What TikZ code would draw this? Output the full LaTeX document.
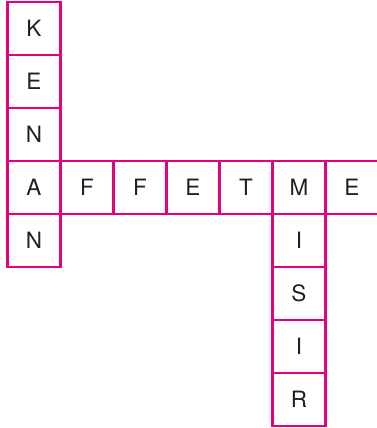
\documentclass[tikz,border=0pt]{standalone}
\usepackage{fontspec}
\setmainfont{TeX Gyre Heros}
\definecolor{mag}{RGB}{230,0,126}
\definecolor{ink}{RGB}{35,31,32}
\begin{document}
\begin{tikzpicture}[x=1pt,y=-1pt,
  cell/.style={draw=mag,line width=2.7pt,minimum size=53pt,inner sep=0pt,
    text=ink,font=\fontsize{22.5}{22.5}\selectfont}]
\useasboundingbox (0,0) rectangle (376,428);
\def\c{53}
\newcommand\cellat[4]{\node[cell] (#1) at ({7.4+\c*(#2+0.5)},{2+\c*(#3+0.5)}) {#4};}
\cellat{k}{0}{0}{K}
\cellat{e1}{0}{1}{E}
\cellat{n1}{0}{2}{N}
\cellat{a}{0}{3}{A}
\cellat{n2}{0}{4}{N}
\cellat{f1}{1}{3}{F}
\cellat{f2}{2}{3}{F}
\cellat{e2}{3}{3}{E}
\cellat{t}{4}{3}{T}
\cellat{m}{5}{3}{M}
\cellat{e3}{6}{3}{E}
\cellat{i1}{5}{4}{I}
\cellat{s}{5}{5}{S}
\cellat{i2}{5}{6}{I}
\cellat{r}{5}{7}{R}
\end{tikzpicture}
\end{document}
